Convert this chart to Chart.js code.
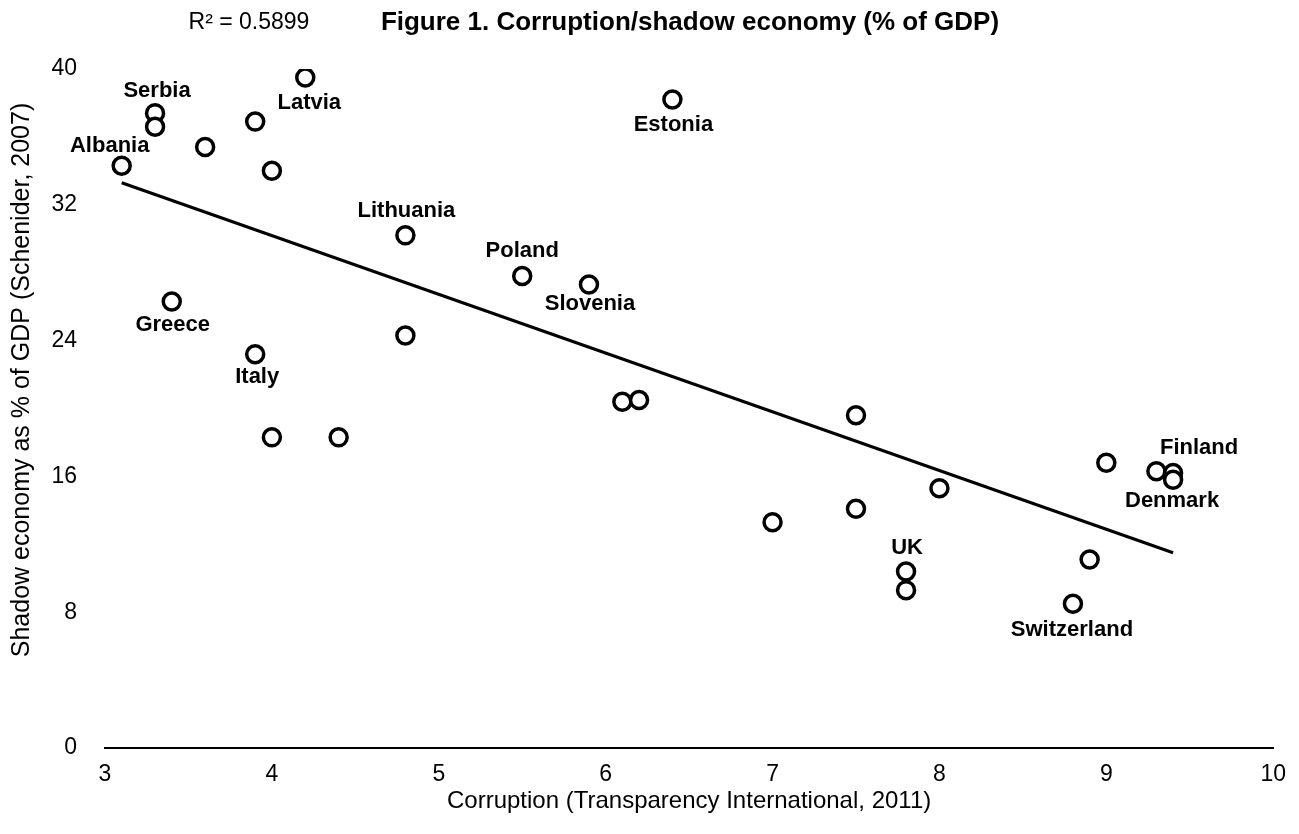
<!DOCTYPE html>
<html>
<head>
<meta charset="utf-8">
<script src="https://cdn.jsdelivr.net/npm/chart.js@4/dist/chart.umd.min.js"></script>
<style>
  body { margin: 0; background: #fff; }
  #wrap { width: 1299px; height: 834px; position: relative; }
</style>
</head>
<body>
<div id="wrap"><canvas id="chart"></canvas></div>
<script>
// countries ('' = point without a label)
const countries = ['Albania', 'Serbia', '', '', '', 'Latvia', '', 'Lithuania', 'Estonia', 'Poland',
    'Slovenia', 'Greece', '', 'Italy', '', '', '', '', '', '',
    '', '', '', '', 'Finland', 'Denmark', 'UK', '', '', 'Switzerland'];
// corruption index (x)
const corruption = [3.1, 3.3, 3.3, 3.6, 3.9, 4.2, 4.0, 4.8, 6.4, 5.5,
    5.9, 3.4, 4.8, 3.9, 4.0, 4.4, 6.1, 6.2, 7.5, 7.0,
    7.5, 8.0, 9.0, 9.3, 9.4, 9.4, 7.8, 7.8, 8.9, 8.8];
// shadow economy % of GDP (y)
const shadow = [34.3, 37.4, 36.6, 35.4, 36.9, 39.5, 34.0, 30.2, 38.2, 27.8,
    27.3, 26.3, 24.3, 23.2, 18.3, 18.3, 20.4, 20.5, 19.6, 13.3,
    14.1, 15.3, 16.8, 16.3, 16.2, 15.8, 10.4, 9.3, 11.1, 8.5];
// trend line end points
const trendX = [3.1, 9.4];
const trendY = [33.3, 11.5];
const xTicks = [3, 4, 5, 6, 7, 8, 9, 10];
const yTicks = [0, 8, 16, 24, 32, 40];
const rSquared = '0.5899';

// label offsets (px) from each labelled point
const labelOffsets = {
    Albania: [-12, -20], Serbia: [2, -22], Latvia: [4, 25], Lithuania: [1, -24],
    Estonia: [1, 25], Poland: [0, -25], Slovenia: [1, 19], Greece: [1, 23],
    Italy: [2, 23], UK: [1, -24], Switzerland: [-1, 26], Finland: [26, -25], Denmark: [-1, 21]
};

const FONT = "'Liberation Sans', Arial, Helvetica, sans-serif";

const extraText = {
    id: 'extraText',
    afterDatasetsDraw(chart) {
        const ctx = chart.ctx;
        const xs = chart.scales.x, ys = chart.scales.y;
        ctx.save();
        ctx.font = 'bold 22px ' + FONT;
        ctx.fillStyle = '#000';
        ctx.textAlign = 'center';
        ctx.textBaseline = 'middle';
        countries.forEach((name, i) => {
            if (!name) return;
            const off = labelOffsets[name] || [0, -22];
            ctx.fillText(name, xs.getPixelForValue(corruption[i]) + off[0], ys.getPixelForValue(shadow[i]) + off[1]);
        });
        // header texts
        ctx.font = 'bold 26px ' + FONT;
        ctx.fillText('Figure 1. Corruption/shadow economy (% of GDP)', 690, 23);
        ctx.font = '23px ' + FONT;
        ctx.fillText('R\u00B2 = ' + rSquared, 249, 23);
        // y axis title
        ctx.translate(22, 380);
        ctx.rotate(-Math.PI / 2);
        ctx.font = '25px ' + FONT;
        ctx.fillText('Shadow economy as % of GDP (Schenider, 2007)', 0, 0);
        ctx.restore();
    }
};

new Chart(document.getElementById('chart'), {
    type: 'scatter',
    data: {
        datasets: [{
            data: corruption.map((x, i) => ({ x: x, y: shadow[i] })),
            pointRadius: 8.5,
            pointHoverRadius: 8.5,
            pointBorderWidth: 3.5,
            pointBackgroundColor: '#fff',
            pointBorderColor: '#000'
        }, {
            type: 'line',
            data: trendX.map((x, i) => ({ x: x, y: trendY[i] })),
            borderColor: '#000',
            borderWidth: 3,
            pointRadius: 0,
            fill: false
        }]
    },
    options: {
        responsive: true,
        maintainAspectRatio: false,
        animation: false,
        layout: { padding: { left: 0, right: 22, top: 69, bottom: 0 } },
        plugins: { legend: { display: false }, tooltip: { enabled: false } },
        scales: {
            x: {
                type: 'linear',
                min: 3, max: 10,
                afterBuildTicks: s => { s.ticks = xTicks.map(v => ({ value: v })); },
                afterFit: s => { s.height = 86; },
                grid: { display: false, drawTicks: false },
                border: { display: true, color: '#000', width: 2 },
                ticks: { color: '#000', padding: 13, font: { family: FONT, size: 23 } },
                title: {
                    display: true,
                    text: 'Corruption (Transparency International, 2011)',
                    color: '#000',
                    font: { family: FONT, size: 24 },
                    padding: { top: 0, bottom: 18 }
                }
            },
            y: {
                min: 0, max: 40,
                afterBuildTicks: s => { s.ticks = yTicks.map(v => ({ value: v })); },
                afterFit: s => { s.width = 105; },
                grid: { display: false, drawTicks: false },
                border: { display: false },
                ticks: { color: '#000', padding: 28, font: { family: FONT, size: 23 } }
            }
        }
    },
    plugins: [extraText]
});
</script>
</body>
</html>
